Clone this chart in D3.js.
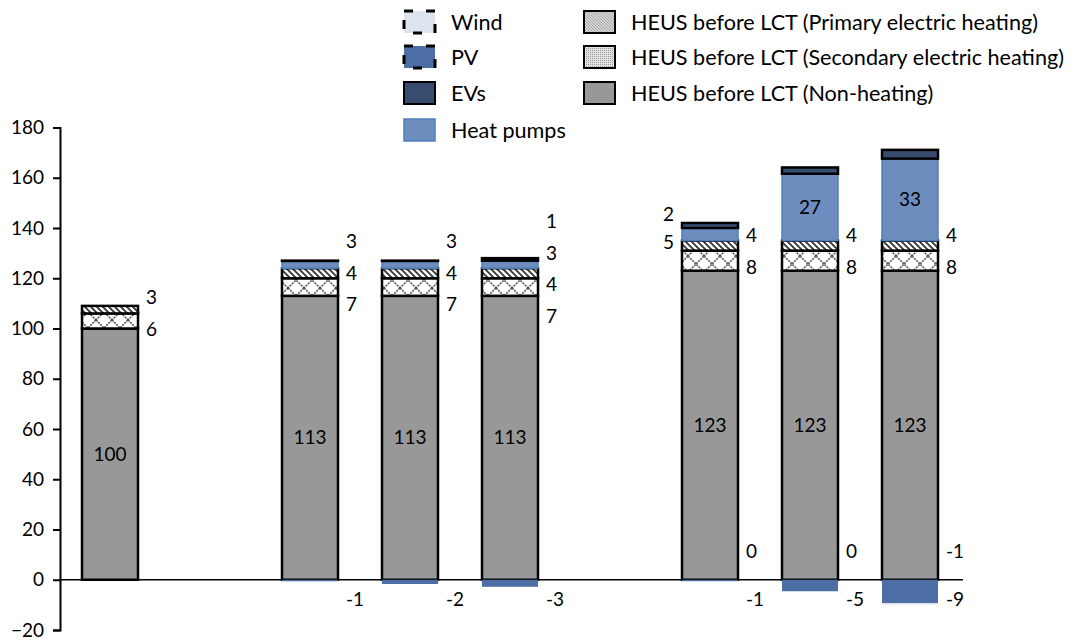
<!DOCTYPE html>
<html>
<head>
<meta charset="utf-8">
<script src="https://cdn.jsdelivr.net/npm/d3@7"></script>
<style>
body { margin: 0; background: #fff; }
text { font-family: Lato, "Open Sans", sans-serif; fill: #000; }
</style>
</head>
<body>
<script>
var width = 1074,
    height = 641;

// slots 2 and 6 are empty gaps between the groups
var categories = ["1", "2", "3", "4", "5", "6", "7", "8", "9"];
var nonHeating       = [100, null, 113, 113, 113, null, 123, 123, 123];
var secondaryHeating = [6,   null, 7,   7,   7,   null, 8,   8,   8];
var primaryHeating   = [3,   null, 4,   4,   4,   null, 4,   4,   4];
var heatPumps        = [null, null, 3,  3,   3,   null, 5,   26.6, 32.6];
var evs              = [null, null, 0,  0,   1,   null, 2,   2.5, 3.5];
var pv               = [null, null, -0.6, -1.7, -2.8, null, -0.6, -4.6, -9.3];
var wind             = [null, null, null, null, null, null, -0.2, -0.2, -0.6];
var yTicks = [-20, 0, 20, 40, 60, 80, 100, 120, 140, 160, 180];

var hiddenLabels = [["8", "evs"], ["9", "evs"]];
var leftLabels = [["7", "heatPumps"], ["7", "evs"]];

var series = [
    {key: "nonHeating", name: "HEUS before LCT (Non-heating)", values: nonHeating, fill: "#989898", stroke: "#000", sw: 2.5},
    {key: "secondary", name: "HEUS before LCT (Secondary electric heating)", values: secondaryHeating, fill: "url(#cross)", stroke: "#000", sw: 2.5},
    {key: "primary", name: "HEUS before LCT (Primary electric heating)", values: primaryHeating, fill: "url(#diag)", stroke: "#000", sw: 2.5},
    {key: "heatPumps", name: "Heat pumps", values: heatPumps, fill: "#6d8dbe", stroke: "#4f7fbd", sw: 1.5},
    {key: "evs", name: "EVs", values: evs, fill: "#374c6e", stroke: "#000", sw: 2.5},
    {key: "pv", name: "PV", values: pv, fill: "#4d6ea5", stroke: "none", sw: 0},
    {key: "wind", name: "Wind", values: wind, fill: "#dde4ef", stroke: "none", sw: 0}
];

var svg = d3.select("body").append("svg")
    .attr("width", width)
    .attr("height", height);

var defs = svg.append("defs");

// big cross hatch
var p1 = defs.append("pattern").attr("id", "cross")
    .attr("patternUnits", "userSpaceOnUse").attr("width", 16).attr("height", 16);
p1.append("rect").attr("width", 16).attr("height", 16).attr("fill", "#fff");
p1.append("path").attr("d", "M0,0L16,16M16,0L0,16")
    .attr("stroke", "#555").attr("stroke-width", 1.6).attr("stroke-dasharray", "2,1");

// small diagonal stripes
var p2 = defs.append("pattern").attr("id", "diag")
    .attr("patternUnits", "userSpaceOnUse").attr("width", 6).attr("height", 6);
p2.append("rect").attr("width", 6).attr("height", 6).attr("fill", "#fff");
p2.append("path").attr("d", "M-1,-1L7,7M-4,2L2,8M2,-4L8,2")
    .attr("stroke", "#333").attr("stroke-width", 1.8);

// legend versions, finer
var p3 = defs.append("pattern").attr("id", "diagSmall")
    .attr("patternUnits", "userSpaceOnUse").attr("width", 3).attr("height", 3);
p3.append("rect").attr("width", 3).attr("height", 3).attr("fill", "#d4d4d4");
p3.append("path").attr("d", "M-1,-1L4,4M-2,1L1,4M1,-2L4,1")
    .attr("stroke", "#999").attr("stroke-width", 0.8);

var p4 = defs.append("pattern").attr("id", "dotSmall")
    .attr("patternUnits", "userSpaceOnUse").attr("width", 2).attr("height", 2);
p4.append("rect").attr("width", 2).attr("height", 2).attr("fill", "#e2e2e2");
p4.append("rect").attr("width", 1).attr("height", 1).attr("fill", "#9a9a9a");

var x = d3.scaleBand()
    .domain(categories)
    .range([60, 960])
    .paddingInner(0.44)
    .paddingOuter(0.22);

var y = d3.scaleLinear()
    .domain([-20, 180])
    .range([630, 127.5]);

var rows = categories.map(function(c, i) {
    var r = {cat: c};
    series.forEach(function(s) { r[s.key] = s.values[i] || 0; });
    return r;
});

var stacked = d3.stack()
    .keys(series.map(function(s) { return s.key; }))
    .offset(d3.stackOffsetDiverging)(rows);

// the diverging offset puts zero values at 0; put them on top of the positive stack
categories.forEach(function(c, i) {
    var top = 0;
    stacked.forEach(function(layer, si) {
        var d = layer[i];
        if (series[si].values[i] === 0) { d[0] = top; d[1] = top; }
        else if (d[1] > top) top = d[1];
    });
});

// zero line
svg.append("line")
    .attr("x1", 60).attr("x2", x.range()[1] + 3)
    .attr("y1", y(0)).attr("y2", y(0))
    .attr("stroke", "#000").attr("stroke-width", 1.5);

var g = svg.append("g");
stacked.forEach(function(layer, si) {
    var s = series[si];
    g.append("g").selectAll("rect")
        .data(layer.filter(function(d, i) { return s.values[i] != null; }))
        .enter().append("rect")
        .attr("x", function(d) { return x(d.data.cat); })
        .attr("width", x.bandwidth())
        .attr("y", function(d) { return y(Math.max(d[0], d[1])); })
        // zero values still show their border as a thin line
        .attr("height", function(d) { return Math.max(0.3, Math.abs(y(d[0]) - y(d[1]))); })
        .attr("fill", s.fill)
        .attr("stroke", s.stroke)
        .attr("stroke-width", s.sw);
});

// y axis
var yAxis = svg.append("g")
    .attr("transform", "translate(60,0)")
    .call(d3.axisLeft(y).tickValues(yTicks).tickSize(7).tickPadding(9).tickFormat(d3.format("d")));
yAxis.select(".domain").attr("stroke-width", 2);
yAxis.selectAll(".tick line").attr("stroke-width", 2);
yAxis.selectAll("text").style("font-size", "19px").style("font-family", "Lato, sans-serif");

// labels
function fmt(v) {
    var r = Math.round(v);
    return String(r === 0 ? 0 : r);
}
function isIn(list, c, k) {
    return list.some(function(p) { return p[0] === c && p[1] === k; });
}

var labelG = svg.append("g").style("font-size", "19px");
var gap = 31.5;
categories.forEach(function(c, i) {
    if (nonHeating[i] == null) return;
    var x0 = x(c), x1 = x(c) + x.bandwidth();
    var right = [], left = [];
    stacked.forEach(function(layer, si) {
        var s = series[si];
        var v = s.values[i];
        if (v == null || v === 0 || isIn(hiddenLabels, c, s.key)) return;
        var d = layer[i];
        var cy = (y(d[0]) + y(d[1])) / 2;
        var h = Math.abs(y(d[0]) - y(d[1]));
        if (v < 0) {
            labelG.append("text")
                .attr("x", x1 + 8)
                .attr("y", s.key === "pv" ? y(0) + 20 : y(0) - 28)
                .attr("dy", "0.35em")
                .text(fmt(v));
        } else if (h > 40) {
            labelG.append("text")
                .attr("x", x0 + x.bandwidth() / 2)
                .attr("y", cy).attr("dy", "0.35em")
                .attr("text-anchor", "middle")
                .text(fmt(v));
        } else if (isIn(leftLabels, c, s.key)) {
            left.push({cy: cy, v: v});
        } else {
            right.push({cy: cy, v: v});
        }
    });
    [[right, x1 + 8, "start", gap], [left, x0 - 8, "end", 28]].forEach(function(grp) {
        var list = grp[0], n = list.length;
        if (!n) return;
        var mean = d3.mean(list, function(d) { return d.cy; });
        list.forEach(function(d, k) {
            labelG.append("text")
                .attr("x", grp[1])
                .attr("y", mean - 2 + ((n - 1) / 2 - k) * grp[3])
                .attr("dy", "0.35em")
                .attr("text-anchor", grp[2])
                .text(fmt(d.v));
        });
    });
});

// legend
var legendCols = [
    {x: 404, keys: ["wind", "pv", "evs", "heatPumps"]},
    {x: 584, keys: ["primary", "secondary", "nonHeating"]}
];
var legendFill = {primary: "url(#diagSmall)", secondary: "url(#dotSmall)", nonHeating: "#989898"};
var legendRowY = [22, 57, 93, 130];
var legend = svg.append("g").style("font-size", "21.6px");
legendCols.forEach(function(col) {
    col.keys.forEach(function(k, r) {
        var s = series.find(function(d) { return d.key === k; });
        var cy = legendRowY[r];
        var sw = legend.append("rect")
            .attr("x", col.x).attr("y", cy - 11)
            .attr("width", 31).attr("height", 22)
            .attr("fill", legendFill[k] || s.fill);
        if (k === "wind" || k === "pv") {
            sw.attr("stroke", "#000").attr("stroke-width", 3).attr("stroke-dasharray", "9,13");
        } else if (k === "heatPumps") {
            sw.attr("stroke", "#4f7fbd").attr("stroke-width", 1.5);
        } else {
            sw.attr("stroke", "#000").attr("stroke-width", 2);
        }
        legend.append("text")
            .attr("x", col.x + 47).attr("y", cy).attr("dy", "0.35em")
            .text(s.name);
    });
});
</script>
</body>
</html>
